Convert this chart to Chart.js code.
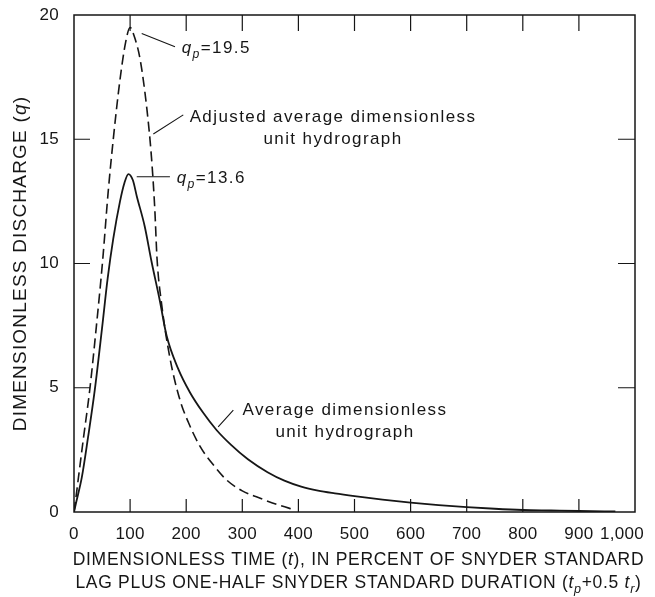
<!DOCTYPE html>
<html>
<head>
<meta charset="utf-8">
<title>Dimensionless unit hydrographs</title>
<script src="https://cdn.jsdelivr.net/npm/chart.js@4.4.1/dist/chart.umd.min.js"></script>
<style>
    html, body { margin: 0; padding: 0; background: #fff; }
</style>
</head>
<body>
<canvas id="myChart" width="655" height="597"></canvas>
<script>
// values (t in percent, q dimensionless)
const averageT = [0, 4, 14, 25, 37, 50, 60, 70, 82, 90, 97, 105, 112, 126, 138, 153, 165, 185, 207, 230, 254, 280, 310, 345, 375, 405, 435, 465, 500, 550, 600, 650, 700, 750, 800, 850, 900, 965];
const averageQ = [0, 0.4, 1.4, 3.0, 4.9, 7.4, 9.4, 11.0, 12.5, 13.25, 13.6, 13.35, 12.7, 11.5, 10.1, 8.5, 7.1, 5.8, 4.8, 4.0, 3.3, 2.7, 2.12, 1.6, 1.26, 1.02, 0.86, 0.75, 0.64, 0.5, 0.38, 0.28, 0.2, 0.13, 0.08, 0.06, 0.04, 0.02];

const adjustedT = [0, 3, 8, 17, 28, 40, 51, 61, 70, 82, 92, 100, 108, 118, 130, 138, 144, 148, 156, 171, 189, 204, 225, 250, 272, 300, 332, 365, 394];
const adjustedQ = [0, 0.5, 1.4, 3.0, 4.9, 7.5, 10.1, 12.9, 15.0, 17.4, 18.9, 19.5, 19.1, 18.2, 16.2, 14.3, 12.2, 10.2, 8.4, 6.2, 4.5, 3.6, 2.63, 1.85, 1.29, 0.85, 0.55, 0.28, 0.08];

const xTicks = [0, 100, 200, 300, 400, 500, 600, 700, 800, 900, 1000];
const yTicks = [0, 5, 10, 15, 20];

const FONT = '"Liberation Sans", Arial, Helvetica, sans-serif';
const ink = '#161616';

function toPoints(xs, ys) {
    return xs.map((x, i) => ({ x: x, y: ys[i] }));
}

// rich text: runs of [text, style]  style: '' normal, 'i' italic, 's' italic subscript
function drawRich(ctx, runs, x, y, align, size, spacing) {
    const parts = runs.map(function (r) {
        const st = r[1];
        const fs = st === 's' ? size * 0.72 : size;
        const font = (st ? 'italic ' : '') + fs + 'px ' + FONT;
        ctx.font = font;
        ctx.letterSpacing = spacing + 'px';
        return { t: r[0], font: font, w: ctx.measureText(r[0]).width, dy: st === 's' ? size * 0.28 : 0 };
    });
    const total = parts.reduce((a, p) => a + p.w, 0);
    let cx = align === 'center' ? x - total / 2 : x;
    parts.forEach(function (p) {
        ctx.font = p.font;
        ctx.letterSpacing = spacing + 'px';
        ctx.fillText(p.t, cx, y + p.dy);
        cx += p.w;
    });
}

// leader lines [t1, q1, t2, q2] and labels in data units
const leaders = [
    [120.7, 19.26, 180, 18.72],
    [194.8, 15.98, 141.4, 15.21],
    [111.8, 13.49, 171, 13.49],
    [284, 4.10, 257, 3.43]
];
const labels = [
    { t: 192, q: 18.47, align: 'left', runs: [['q', 'i'], ['p', 's'], ['=19.5', '']] },
    { t: 461.7, q: 15.71, align: 'center', runs: [['Adjusted average dimensionless', '']] },
    { t: 461.7, q: 14.81, align: 'center', runs: [['unit hydrograph', '']] },
    { t: 183, q: 13.24, align: 'left', runs: [['q', 'i'], ['p', 's'], ['=13.6', '']] },
    { t: 483, q: 3.90, align: 'center', runs: [['Average dimensionless', '']] },
    { t: 483, q: 3.02, align: 'center', runs: [['unit hydrograph', '']] }
];

const decor = {
    id: 'decor',
    beforeDraw(chart) {
        chart.ctx.letterSpacing = '0.3px';
    },
    afterDraw(chart) {
        const ctx = chart.ctx;
        const a = chart.chartArea;
        const xs = chart.scales.x, ys = chart.scales.y;
        ctx.save();
        ctx.strokeStyle = ink;
        ctx.fillStyle = ink;
        ctx.lineWidth = 1.5;
        ctx.strokeRect(a.left, a.top, a.right - a.left, a.bottom - a.top);

        // inward ticks on all four sides
        ctx.lineWidth = 1.2;
        ctx.beginPath();
        xTicks.slice(1, -1).forEach(function (v) {
            const px = xs.getPixelForValue(v);
            ctx.moveTo(px, a.bottom); ctx.lineTo(px, a.bottom - 13);
            ctx.moveTo(px, a.top); ctx.lineTo(px, a.top + 16);
        });
        yTicks.slice(1, -1).forEach(function (v) {
            const py = ys.getPixelForValue(v);
            ctx.moveTo(a.left, py); ctx.lineTo(a.left + 16, py);
            ctx.moveTo(a.right, py); ctx.lineTo(a.right - 17, py);
        });
        ctx.stroke();

        // leader lines
        ctx.lineWidth = 1.1;
        ctx.beginPath();
        leaders.forEach(function (l) {
            ctx.moveTo(xs.getPixelForValue(l[0]), ys.getPixelForValue(l[1]));
            ctx.lineTo(xs.getPixelForValue(l[2]), ys.getPixelForValue(l[3]));
        });
        ctx.stroke();

        ctx.textAlign = 'left';
        ctx.textBaseline = 'alphabetic';
        labels.forEach(function (lb) {
            drawRich(ctx, lb.runs, xs.getPixelForValue(lb.t), ys.getPixelForValue(lb.q), lb.align, 17, 1.4);
        });

        // x axis title, two lines
        const cx = (a.left + a.right) / 2 + 4;
        drawRich(ctx, [['DIMENSIONLESS TIME (', ''], ['t', 'i'], ['), IN PERCENT OF SNYDER STANDARD', '']],
            cx, a.bottom + 53.3, 'center', 17.5, 0.7);
        drawRich(ctx, [['LAG PLUS ONE-HALF SNYDER STANDARD DURATION (', ''], ['t', 'i'], ['p', 's'],
            ['+0.5 ', ''], ['t', 'i'], ['r', 's'], [')', '']],
            cx, a.bottom + 76.3, 'center', 17.5, 0.7);

        // y axis title, rotated
        ctx.translate(19, (a.top + a.bottom) / 2);
        ctx.rotate(-Math.PI / 2);
        drawRich(ctx, [['DIMENSIONLESS DISCHARGE (', ''], ['q', 'i'], [')', '']], 0, 6.8, 'center', 19, 1.2);
        ctx.restore();
    }
};

const data = {
    datasets: [
        {
            label: 'Average dimensionless unit hydrograph',
            data: toPoints(averageT, averageQ),
            borderColor: ink,
            borderWidth: 1.8,
            cubicInterpolationMode: 'monotone'
        },
        {
            label: 'Adjusted average dimensionless unit hydrograph',
            data: toPoints(adjustedT, adjustedQ),
            borderColor: ink,
            borderWidth: 1.6,
            borderDash: [10, 5],
            cubicInterpolationMode: 'monotone'
        }
    ]
};

const config = {
    type: 'line',
    data: data,
    options: {
        responsive: false,
        animation: false,
        devicePixelRatio: 1,
        layout: { padding: { top: 15, right: 20, left: 0, bottom: 0 } },
        elements: { point: { radius: 0 } },
        plugins: {
            legend: { display: false },
            tooltip: { enabled: false }
        },
        scales: {
            x: {
                type: 'linear',
                min: 0,
                max: 1000,
                grid: { display: false, drawTicks: false },
                border: { display: false },
                afterBuildTicks: s => { s.ticks = xTicks.map(v => ({ value: v })); },
                ticks: {
                    padding: 12,
                    color: ink,
                    maxRotation: 0,
                    autoSkip: false,
                    font: { family: FONT, size: 17 },
                    // last label sits left of its tick in the original, padded with spaces
                    callback: v => v === 1000 ? '1,000\u2003\u2002' : v.toLocaleString('en-US')
                },
                afterFit: s => { s.height = 85; s.paddingLeft = 0; s.paddingRight = 0; }
            },
            y: {
                min: 0,
                max: 20,
                grid: { display: false, drawTicks: false },
                border: { display: false },
                afterBuildTicks: s => { s.ticks = yTicks.map(v => ({ value: v })); },
                ticks: {
                    padding: 15,
                    color: ink,
                    font: { family: FONT, size: 17 }
                },
                afterFit: s => { s.width = 74; s.paddingTop = 0; s.paddingBottom = 0; }
            }
        }
    },
    plugins: [decor]
};

const myChart = new Chart(document.getElementById('myChart'), config);
</script>
</body>
</html>
